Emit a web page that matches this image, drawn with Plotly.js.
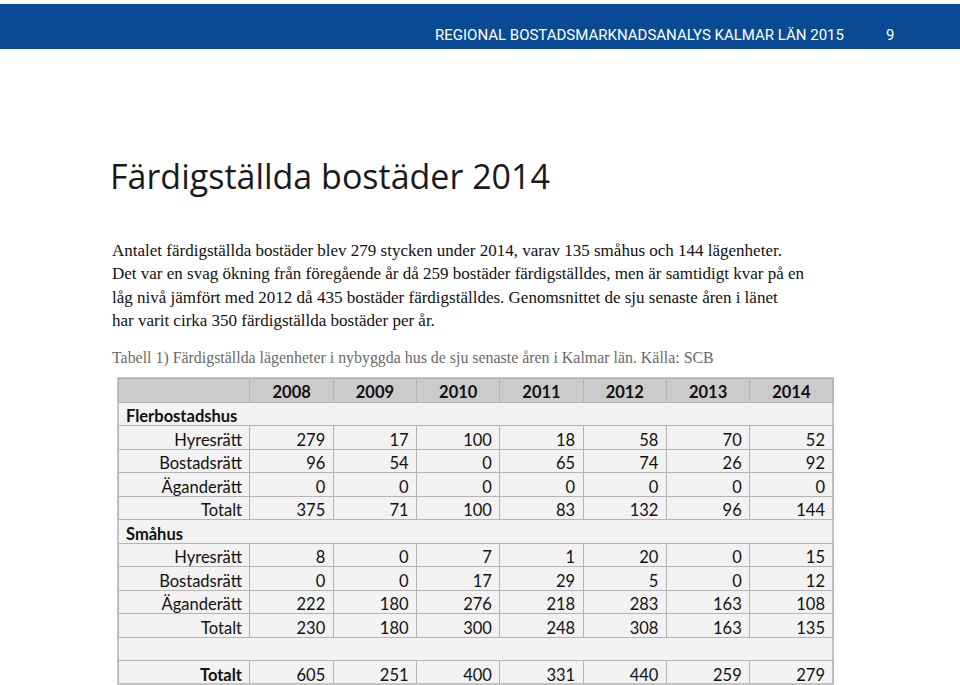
<!DOCTYPE html>
<html>
<head>
<meta charset="utf-8">
<script src="https://cdn.plot.ly/plotly-3.0.1.min.js"></script>
<style>html,body{margin:0;padding:0;background:#fff;}#chart{width:960px;height:685px;}</style>
</head>
<body>
<div id="chart"></div>
<script>
// ---- data ----
const years = ['2008', '2009', '2010', '2011', '2012', '2013', '2014'];
const rowLabels = ['Flerbostadshus', 'Hyresrätt', 'Bostadsrätt', 'Äganderätt', 'Totalt',
                   'Småhus', 'Hyresrätt', 'Bostadsrätt', 'Äganderätt', 'Totalt', '', 'Totalt'];
const sectionRows = [0, 5, 10];          // rows that span the table
const boldLabelRows = [0, 5, 11];
const flerHyresratt   = [279, 17, 100, 18, 58, 70, 52];
const flerBostadsratt = [96, 54, 0, 65, 74, 26, 92];
const flerAganderatt  = [0, 0, 0, 0, 0, 0, 0];
const flerTotalt      = [375, 71, 100, 83, 132, 96, 144];
const smaHyresratt    = [8, 0, 7, 1, 20, 0, 15];
const smaBostadsratt  = [0, 0, 17, 29, 5, 0, 12];
const smaAganderatt   = [222, 180, 276, 218, 283, 163, 108];
const smaTotalt       = [230, 180, 300, 248, 308, 163, 135];
const totaltAll       = [605, 251, 400, 331, 440, 259, 279];

const headerText = 'REGIONAL BOSTADSMARKNADSANALYS KALMAR LÄN 2015';
const pageNumber = '9';
const pageTitle = 'Färdigställda bostäder 2014';
const bodyLines = [
  'Antalet färdigställda bostäder blev 279 stycken under 2014, varav 135 småhus och 144 lägenheter.',
  'Det var en svag ökning från föregående år då 259 bostäder färdigställdes, men är samtidigt kvar på en',
  'låg nivå jämfört med 2012 då 435 bostäder färdigställdes. Genomsnittet de sju senaste åren i länet',
  'har varit cirka 350 färdigställda bostäder per år.'
];
const captionText = 'Tabell 1) Färdigställda lägenheter i nybyggda hus de sju senaste åren i Kalmar län. Källa: SCB';

// ---- build table ----
const rowData = [null, flerHyresratt, flerBostadsratt, flerAganderatt, flerTotalt,
                 null, smaHyresratt, smaBostadsratt, smaAganderatt, smaTotalt, null, totaltAll];
const labelCol = rowLabels.slice();
const yearCols = years.map((y, c) => rowData.map(r => r ? String(r[c]) : ''));
const cellValues = [labelCol].concat(yearCols);

const lineGrid = '#b4b4b4';
const cellBg = '#f2f2f2';
const clear = 'rgba(0,0,0,0)';
const lineColors = cellValues.map(() => rowLabels.map((l, i) => sectionRows.includes(i) ? clear : lineGrid));
const fillColors = cellValues.map(() => rowLabels.map((l, i) => sectionRows.includes(i) ? clear : cellBg));
const alignCols = cellValues.map((col, c) => rowLabels.map((l, i) => (c === 0 && sectionRows.includes(i)) ? 'left' : 'right'));
const weightCols = cellValues.map((col, c) => rowLabels.map((l, i) => (c === 0 && boldLabelRows.includes(i)) ? 'bold' : 'normal'));

const px = (v) => v / 960;
const py = (v) => 1 - v / 685;

const tableTrace = {
  type: 'table',
  domain: {x: [px(118), px(833)], y: [py(684), py(378)]},
  columnwidth: [132, 83.3, 83.3, 83.3, 83.3, 83.3, 83.3, 83.3],
  header: {
    values: [''].concat(years),
    align: 'center',
    height: 24,
    fill: {color: '#cbcbcb'},
    line: {color: lineGrid, width: 1},
    font: {family: 'Lato, "Open Sans", sans-serif', size: 16.5, color: '#111', weight: 'bold'}
  },
  cells: {
    values: cellValues,
    align: alignCols,
    height: 23.5,
    fill: {color: fillColors},
    line: {color: lineColors, width: 1},
    font: {family: 'Lato, "Open Sans", sans-serif', size: 16.5, color: '#111', weight: weightCols}
  }
};

const annotations = [
  {text: headerText, x: px(846), y: py(35), xanchor: 'right', yanchor: 'middle',
   font: {family: '"Liberation Sans Narrow", Roboto, sans-serif', size: 15, color: '#ffffff'}},
  {text: pageNumber, x: px(890), y: py(35), xanchor: 'center', yanchor: 'middle',
   font: {family: 'Roboto, sans-serif', size: 15, color: '#ffffff'}},
  {text: pageTitle, x: px(108), y: py(176), xanchor: 'left', yanchor: 'middle',
   font: {family: '"Open Sans", sans-serif', size: 34, color: '#1a1a1a'}},
  {text: captionText, x: px(110), y: py(358), xanchor: 'left', yanchor: 'middle',
   font: {family: '"Liberation Serif", serif', size: 15.9, color: '#6a6a6a'}}
];
const lineY = [250, 273.5, 297, 320];
bodyLines.forEach((t, i) => annotations.push({
  text: t, x: px(110), y: py(lineY[i]), xanchor: 'left', yanchor: 'middle',
  font: {family: '"Liberation Serif", serif', size: 17, color: '#111'}
}));
annotations.forEach(a => { a.xref = 'paper'; a.yref = 'paper'; a.showarrow = false; });

const shapes = [
  {type: 'rect', xref: 'paper', yref: 'paper', x0: 0, x1: 1, y0: py(49), y1: py(4),
   fillcolor: '#0a4a94', line: {width: 0}, layer: 'below'},
  {type: 'rect', xref: 'paper', yref: 'paper', x0: px(118), x1: px(833), y0: py(684), y1: py(402),
   fillcolor: cellBg, line: {width: 0}, layer: 'below'},
  {type: 'rect', xref: 'paper', yref: 'paper', x0: px(118), x1: px(833), y0: py(684), y1: py(378),
   fillcolor: 'rgba(0,0,0,0)', line: {width: 1.5, color: lineGrid}, layer: 'above'}
];

const layout = {
  width: 960, height: 685,
  margin: {l: 0, r: 0, t: 0, b: 0},
  paper_bgcolor: '#ffffff',
  plot_bgcolor: '#ffffff',
  showlegend: false,
  annotations: annotations,
  shapes: shapes
};

Plotly.newPlot('chart', [tableTrace], layout, {displayModeBar: false, staticPlot: true});
</script>
</body>
</html>
